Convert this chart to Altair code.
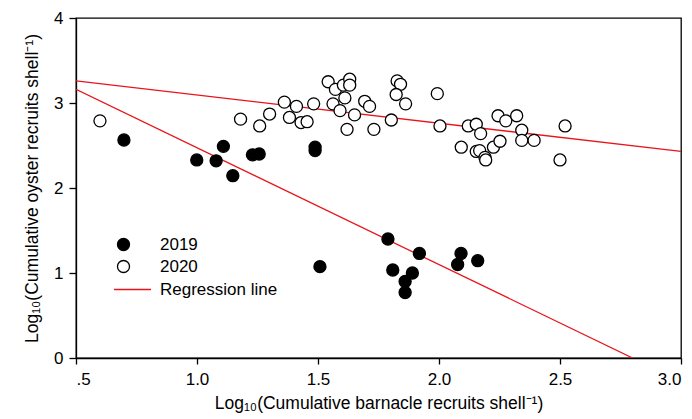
import altair as alt
import pandas as pd

# 2019 (filled circles)
x2019 = [0.698, 0.999, 1.079, 1.109, 1.148, 1.229, 1.257, 1.488, 1.488, 1.508,
         1.789, 1.809, 1.890, 1.860, 1.860, 1.919, 2.077, 2.091, 2.160]
y2019 = [2.565, 2.33, 2.32, 2.49, 2.145, 2.39, 2.40, 2.48, 2.44, 1.075,
         1.40, 1.035, 1.00, 0.90, 0.77, 1.23, 1.10, 1.23, 1.145]

# 2020 (open circles)
x2020 = [0.599, 1.180, 1.259, 1.300, 1.361, 1.411, 1.382, 1.430, 1.455, 1.482,
         1.542, 1.572, 1.605, 1.631, 1.631, 1.611, 1.562, 1.591, 1.651, 1.620,
         1.693, 1.713, 1.731, 1.803, 1.827, 1.841, 1.823, 1.862, 1.993, 2.004,
         2.092, 2.121, 2.154, 2.172, 2.154, 2.168, 2.190, 2.193, 2.225, 2.252,
         2.244, 2.276, 2.321, 2.342, 2.342, 2.393, 2.521, 2.500]
y2020 = [2.79, 2.81, 2.73, 2.87, 3.01, 2.96, 2.83, 2.77, 2.78, 2.99,
         3.25, 3.16, 3.21, 3.28, 3.21, 3.06, 2.99, 2.91, 2.86, 2.69,
         3.02, 2.96, 2.69, 2.80, 3.26, 3.22, 3.10, 2.99, 3.11, 2.73,
         2.48, 2.73, 2.75, 2.64, 2.43, 2.44, 2.36, 2.33, 2.48, 2.55,
         2.85, 2.79, 2.85, 2.68, 2.56, 2.56, 2.73, 2.33]

# Regression lines (end points)
reg_id = ["2019", "2019", "2020", "2020"]
reg_x = [0.5, 2.80, 0.5, 3.0]
reg_y = [3.16, 0.0, 3.26, 2.43]

x_ticks = [0.5, 1.0, 1.5, 2.0, 2.5, 3.0]
y_ticks = [0, 1, 2, 3, 4]

pts = pd.DataFrame({
    "x": x2019 + x2020,
    "y": y2019 + y2020,
    "year": ["2019"] * len(x2019) + ["2020"] * len(x2020),
})
lines = pd.DataFrame({"id": reg_id, "x": reg_x, "y": reg_y, "label": ["Regression line"] * 4})

FONT = "Liberation Sans"

xscale = alt.Scale(domain=[0.5, 3.0], nice=False, zero=False)
yscale = alt.Scale(domain=[0, 4], nice=False, zero=False)

xaxis = alt.Axis(values=x_ticks,
                 labelExpr="datum.value == 0.5 ? '.5' : format(datum.value, '.1f')",
                 title="Log₁₀(Cumulative barnacle recruits shell⁻¹)",
                 tickSize=6, labelPadding=7, titlePadding=7)
yaxis = alt.Axis(values=y_ticks, format="d",
                 title="Log₁₀(Cumulative oyster recruits shell⁻¹)",
                 tickSize=7, labelPadding=6, titlePadding=12)

line_layer = alt.Chart(lines).mark_line(strokeWidth=1.3, clip=True).encode(
    x=alt.X("x:Q", scale=xscale, axis=xaxis),
    y=alt.Y("y:Q", scale=yscale, axis=yaxis),
    detail="id:N",
    stroke=alt.Stroke("label:N",
                      scale=alt.Scale(domain=["Regression line"], range=["#e8141b"]),
                      legend=alt.Legend(title=None, orient="none", legendX=37, legendY=252,
                                        symbolType="stroke", symbolSize=1369,
                                        symbolStrokeWidth=1.5, labelOffset=8,
                                        labelFont=FONT, labelFontSize=17, labelColor="black",
                                        padding=0)),
)

pt_layer = alt.Chart(pts).mark_circle(size=145, opacity=1, stroke="black", strokeWidth=1.3).encode(
    x=alt.X("x:Q", scale=xscale, axis=xaxis),
    y=alt.Y("y:Q", scale=yscale, axis=yaxis),
    fill=alt.Fill("year:N",
                  scale=alt.Scale(domain=["2019", "2020"], range=["black", "white"]),
                  legend=alt.Legend(title=None, orient="none", legendX=39, legendY=218,
                                    symbolType="circle", symbolSize=145,
                                    symbolStrokeColor="black", symbolStrokeWidth=1.3,
                                    symbolOpacity=1, labelOffset=28, rowPadding=3,
                                    labelFont=FONT, labelFontSize=17, labelColor="black",
                                    padding=0)),
)

chart = alt.layer(line_layer, pt_layer).resolve_legend(fill="independent", stroke="independent").properties(
    width=605, height=340,
    autosize=alt.AutoSizeParams(type="none"),
    padding={"left": 76, "top": 18, "right": 11, "bottom": 61},
    background="white",
).configure_view(stroke="black", strokeWidth=1.3).configure_axis(
    grid=False, domainColor="black", tickColor="black", domainWidth=1.3, tickWidth=1.3,
    labelFont=FONT, labelFontSize=17, labelColor="black",
    titleFont=FONT, titleFontSize=17.5, titleFontWeight="normal", titleColor="black",
)

chart.save("out.html", embed_options={"renderer": "svg", "actions": False})
